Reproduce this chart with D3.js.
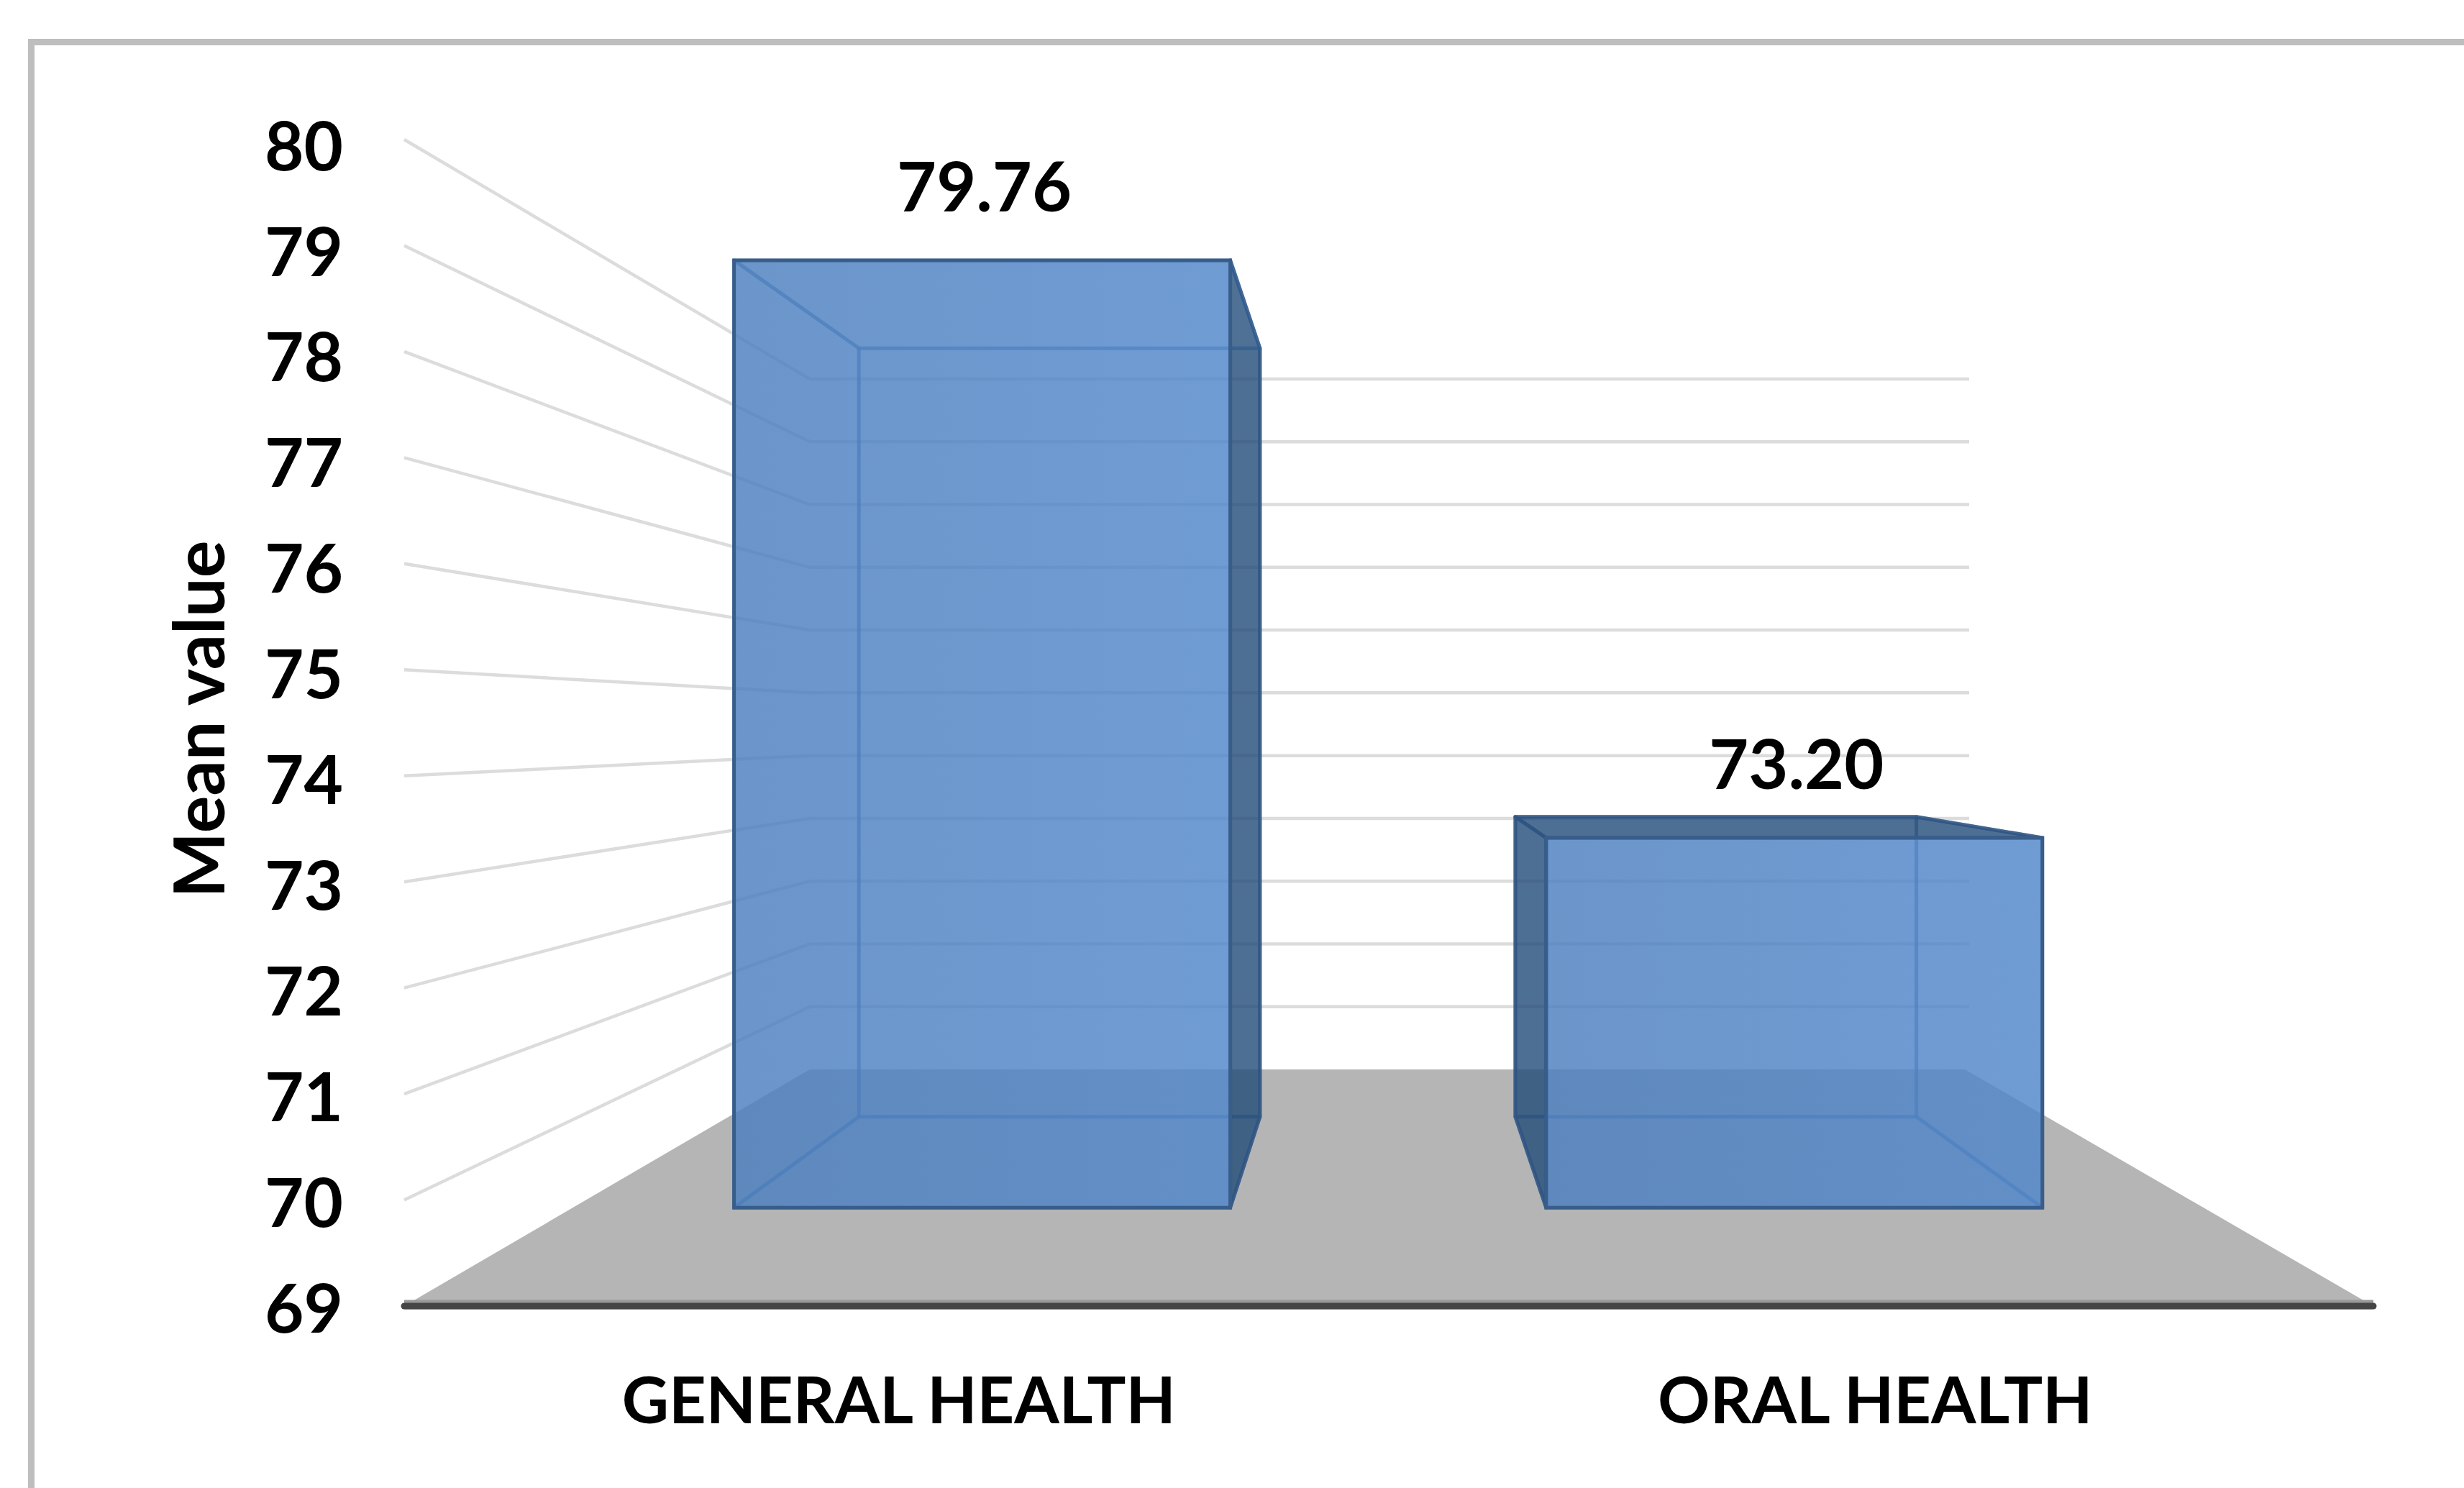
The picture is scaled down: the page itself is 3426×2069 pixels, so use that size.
<!DOCTYPE html>
<html lang="en">

<head>
    <meta charset="utf-8">
    <title>Mean value: general and oral health</title>
    <script src="https://cdnjs.cloudflare.com/ajax/libs/d3/7.8.5/d3.min.js"></script>
    <style type="text/css">
        body {
            margin: 0;
            background: #fff;
        }

        text {
            font-family: Lato, "Open Sans", sans-serif;
            font-weight: 700;
            fill: #000;
        }
    </style>
</head>

<body>
    <script type="text/javascript">
        const categories = ["GENERAL HEALTH", "ORAL HEALTH"];
        const values = [79.76, 73.20];
        const valueLabels = ["79.76", "73.20"];
        const yTicks = [69, 70, 71, 72, 73, 74, 75, 76, 77, 78, 79, 80];
        const yTitle = "Mean value";

        const w = 3426;
        const h = 2069;

        // the 3D box: front plane of the walls (depth 0) and back plane (depth 1)
        const yFront = d3.scaleLinear().domain([69, 80]).range([1816, 194]);
        const yBack = d3.scaleLinear().domain([69, 80]).range([1487, 527]);
        const xLeft = d3.scaleLinear().domain([0, 1]).range([562, 1126]);
        const xRight = d3.scaleLinear().domain([0, 1]).range([3300, 2732]);

        // tick labels are spaced a little tighter than the wall lines
        const yLabel = d3.scaleLinear().domain([69, 80]).range([1822, 206]);

        // position along the floor, 0 to 1, same at every depth
        const band = d3.scaleBand().domain(categories).range([0.0988, 0.9012])
            .paddingInner(0.389).paddingOuter(0);
        const xLabel = d3.scaleBand().domain(categories).range([571, 3286]);

        const barDepthFront = 0.416;
        const barDepthBack = 0.8;

        function project(u, v, depth) {
            const left = xLeft(depth);
            const right = xRight(depth);
            return [
                left + u * (right - left),
                yFront(v) * (1 - depth) + yBack(v) * depth
            ];
        }

        const svg = d3.select("body")
            .append("svg")
            .attr("width", w)
            .attr("height", h)
            .style("display", "block");

        // outer frame, open on the right and at the bottom of the picture
        svg.append("path")
            .attr("d", d3.line()([[43.5, h], [43.5, 58.5], [w, 58.5]]))
            .attr("fill", "none")
            .attr("stroke", "#bebebe")
            .attr("stroke-width", 9);

        const grid = yTicks.filter(d => d > 69);

        // back wall lines
        svg.append("g").selectAll("line")
            .data(grid)
            .enter().append("line")
            .attr("x1", xLeft(1))
            .attr("x2", xRight(1) + 6)
            .attr("y1", d => yBack(d))
            .attr("y2", d => yBack(d))
            .attr("stroke", "#dcdcdc")
            .attr("stroke-width", 4.5);

        // side wall lines
        svg.append("g").selectAll("line")
            .data(grid)
            .enter().append("line")
            .attr("x1", xLeft(0))
            .attr("x2", xLeft(1))
            .attr("y1", d => yFront(d))
            .attr("y2", d => yBack(d))
            .attr("stroke", "#dcdcdc")
            .attr("stroke-width", 4.5);

        // floor
        svg.append("path")
            .attr("d", d3.line()([
                project(0, 69, 0), project(0, 69, 1),
                project(1, 69, 1), project(1, 69, 0)
            ]) + "Z")
            .attr("fill", "#b5b5b5");

        svg.append("line")
            .attr("x1", xLeft(0))
            .attr("x2", xRight(0))
            .attr("y1", yFront(69) - 2)
            .attr("y2", yFront(69) - 2)
            .attr("stroke", "#999999")
            .attr("stroke-width", 13);

        svg.append("line")
            .attr("x1", xLeft(0))
            .attr("x2", xRight(0))
            .attr("y1", yFront(69))
            .attr("y2", yFront(69))
            .attr("stroke", "#454545")
            .attr("stroke-width", 9)
            .attr("stroke-linecap", "round");

        // bars
        const gradient = svg.append("defs").append("linearGradient")
            .attr("id", "front-fill")
            .attr("x1", 0).attr("x2", 1).attr("y1", 0).attr("y2", 0);
        gradient.append("stop").attr("offset", "0%").attr("stop-color", "#4d80bf");
        gradient.append("stop").attr("offset", "100%").attr("stop-color", "#5287cb");

        const line = d3.line();

        categories.forEach((cat, i) => {
            const v = values[i];
            const u0 = band(cat);
            const u1 = u0 + band.bandwidth();
            const df = barDepthFront;
            const db = barDepthBack;

            const corner = (u, val, depth) => project(u, val, depth);
            const g = svg.append("g");

            const face = (pts, fill, opacity, stroke, strokeOpacity) => g.append("path")
                .attr("d", line(pts) + "Z")
                .attr("fill", fill)
                .attr("fill-opacity", opacity)
                .attr("stroke", stroke)
                .attr("stroke-opacity", strokeOpacity)
                .attr("stroke-width", 5)
                .attr("stroke-linejoin", "round");

            const leftOut = corner(u0, 69, db)[0] < corner(u0, 69, df)[0];
            const rightOut = corner(u1, 69, db)[0] > corner(u1, 69, df)[0];
            const topOut = corner(u0, v, db)[1] < corner(u0, v, df)[1];

            const inner = ["#4f81bd", 0.05, "#2f5f9a", 0.4];
            const outer = ["#234c78", 0.8, "#2f5582", 0.85];

            // back face
            face([corner(u0, 69, db), corner(u1, 69, db), corner(u1, v, db), corner(u0, v, db)], ...inner);
            // floor of the box
            face([corner(u0, 69, df), corner(u1, 69, df), corner(u1, 69, db), corner(u0, 69, db)], ...inner);
            // sides and top, dark only when they are seen from outside
            face([corner(u0, 69, df), corner(u0, 69, db), corner(u0, v, db), corner(u0, v, df)], ...(leftOut ? outer : inner));
            face([corner(u1, 69, df), corner(u1, 69, db), corner(u1, v, db), corner(u1, v, df)], ...(rightOut ? outer : inner));
            face([corner(u0, v, df), corner(u0, v, db), corner(u1, v, db), corner(u1, v, df)], ...(topOut ? outer : inner));
            // front face
            g.append("path")
                .attr("d", line([corner(u0, 69, df), corner(u1, 69, df), corner(u1, v, df), corner(u0, v, df)]) + "Z")
                .attr("fill", "url(#front-fill)")
                .attr("fill-opacity", 0.82)
                .attr("stroke", "#385d8a")
                .attr("stroke-width", 5);

            // value label
            svg.append("text")
                .attr("x", corner((u0 + u1) / 2, v, df)[0] + 3)
                .attr("y", corner((u0 + u1) / 2, v, df)[1] - 68)
                .attr("text-anchor", "middle")
                .style("font-size", "95px")
                .text(valueLabels[i]);
        });

        // Y axis labels
        const yAxis = d3.axisLeft(yLabel)
            .tickValues(yTicks)
            .tickSize(0)
            .tickPadding(0)
            .tickFormat(d3.format("d"));

        svg.append("g")
            .attr("transform", "translate(477,0)")
            .call(yAxis)
            .call(g => g.select(".domain").remove())
            .selectAll("text")
            .style("font-size", "94px")
            .style("font-family", null);

        // X axis labels
        const xAxis = d3.axisBottom(xLabel).tickSize(0).tickPadding(0);

        svg.append("g")
            .attr("transform", "translate(0,1979)")
            .call(xAxis)
            .call(g => g.select(".domain").remove())
            .selectAll("text")
            .attr("y", 0)
            .attr("dy", 0)
            .style("font-size", "90px")
            .style("font-family", null);

        // axis title
        svg.append("text")
            .attr("transform", "translate(312,1000) rotate(-90)")
            .attr("text-anchor", "middle")
            .style("font-size", "97px")
            .text(yTitle);
    </script>
</body>

</html>
